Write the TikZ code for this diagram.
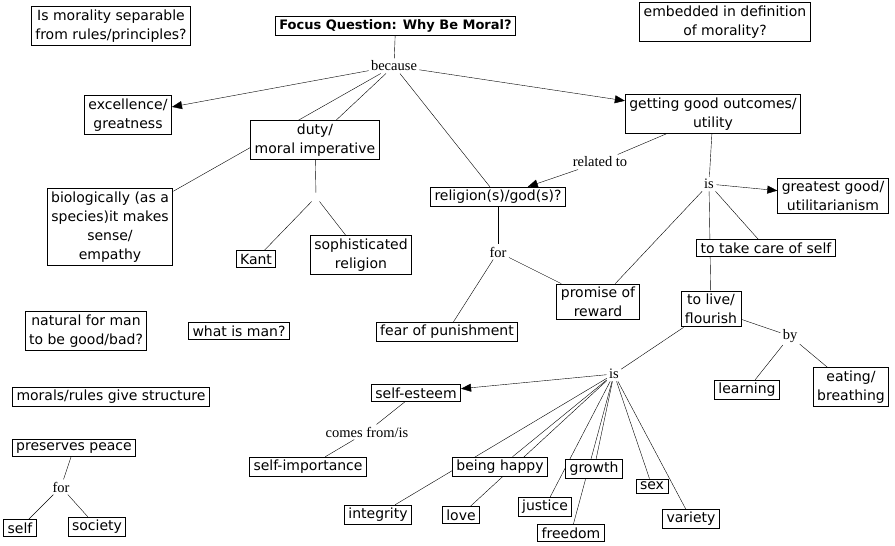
\documentclass[tikz,border=0pt]{standalone}
\usepackage{fontspec}
\setmainfont{Liberation Serif}
\newfontfamily\boxfont{DejaVu Sans}
\usetikzlibrary{arrows.meta,backgrounds}
\tikzset{
  every picture/.style={line width=0.9pt},
  concept/.style={draw, fill=white, align=center, inner xsep=4pt, inner ysep=3pt,
    font=\boxfont\fontsize{14}{19}\selectfont},
  linkword/.style={inner sep=2pt, font=\fontsize{14.5}{16}\selectfont},
  tolink/.style={-{Triangle[length=10pt,width=8pt]}},
}

\begin{document}
\begin{tikzpicture}[x=1pt,y=-1pt]
    \useasboundingbox (0,0) rectangle (895,546);

    % Focus question and loose questions
    \node[concept,font=\boxfont\bfseries\fontsize{13}{16}\selectfont] (focus) at (395.5,26) {Focus Question: Why Be Moral?};
    \node[concept] (separable) at (111,26) {Is morality separable\\from rules/principles?};
    \node[concept] (embedded) at (725,22) {embedded in definition\\of morality?};
    \node[concept] (natural) at (86,331) {natural for man\\to be good/bad?};
    \node[concept] (whatman) at (239,331) {what is man?};
    \node[concept] (structure) at (111,397) {morals/rules give structure};

    % because branch
    \node[linkword] (because) at (394,66) {because};
    \node[concept] (excellence) at (128,115) {excellence/\\greatness};
    \node[concept] (duty) at (315,140) {duty/\\moral imperative};
    \node[inner sep=4pt] (dutylink) at (316,197) {};
    \node[concept] (biology) at (110,227) {biologically (as a\\species)it makes\\sense/\\empathy};
    \node[concept] (kant) at (256,259) {Kant};
    \node[concept] (sophisticated) at (361,255) {sophisticated\\religion};

    % religion
    \node[concept] (religion) at (498,197) {religion(s)/god(s)?};
    \node[linkword] (forreligion) at (498,252) {for};
    \node[concept] (fear) at (447,332) {fear of punishment};
    \node[concept] (promise) at (598,302) {promise of\\reward};

    % outcomes
    \node[concept] (outcomes) at (713,114) {getting good outcomes/\\utility};
    \node[linkword] (related) at (600,162) {related to};
    \node[linkword] (isupper) at (709,184) {is};
    \node[concept] (greatest) at (833,196) {greatest good/\\utilitarianism};
    \node[concept] (takecare) at (766,248) {to take care of self};
    \node[concept] (flourish) at (711,309) {to live/\\flourish};
    \node[linkword] (by) at (790,336) {by};
    \node[concept] (learning) at (747,390) {learning};
    \node[concept] (eating) at (851,387) {eating/\\breathing};

    % what flourishing is
    \node[linkword] (islower) at (614,374) {is};
    \node[concept] (esteem) at (416,393) {self-esteem};
    \node[linkword] (comes) at (367,432) {comes from/is};
    \node[concept] (importance) at (308,467) {self-importance};
    \node[concept] (happy) at (500,467) {being happy};
    \node[concept] (integrity) at (378,515) {integrity};
    \node[concept] (love) at (461,515) {love};
    \node[concept] (growth) at (594,469) {growth};
    \node[concept] (justice) at (545,507) {justice};
    \node[concept] (freedom) at (571,533) {freedom};
    \node[concept] (sex) at (652,486) {sex};
    \node[concept] (variety) at (691,519) {variety};

    % peace
    \node[concept] (peace) at (74,448) {preserves peace};
    \node[linkword] (forpeace) at (61,487) {for};
    \node[concept] (self) at (20,528) {self};
    \node[concept] (society) at (97,527) {society};

    \begin{scope}[on background layer]
        \fill[white] (0,0) rectangle (895,546);

        \draw (focus) -- (because);
        \draw[tolink] (because) -- (excellence);
        \draw (because) -- (duty);
        \draw (because) -- (biology);
        \draw (because) -- (religion);
        \draw[tolink] (because) -- (outcomes);

        \draw (duty) -- (dutylink);
        \draw (dutylink) -- (kant);
        \draw (dutylink) -- (sophisticated);

        \draw (religion) -- (forreligion);
        \draw (forreligion) -- (fear);
        \draw (forreligion) -- (promise);

        \draw (outcomes) -- (related);
        \draw[tolink] (related) -- (religion);
        \draw (outcomes) -- (isupper);
        \draw[tolink] (isupper) -- (greatest);
        \draw (isupper) -- (takecare);
        \draw (isupper) -- (flourish);
        \draw (isupper) -- (promise);

        \draw (flourish) -- (by);
        \draw (by) -- (learning);
        \draw (by) -- (eating);
        \draw (flourish) -- (islower);

        \draw[tolink] (islower) -- (esteem);
        \draw (esteem) -- (comes);
        \draw (comes) -- (importance);
        \foreach \target in {happy,integrity,love,growth,justice,freedom,sex,variety}
            \draw (islower) -- (\target);

        \draw (peace) -- (forpeace);
        \draw (forpeace) -- (self);
        \draw (forpeace) -- (society);
    \end{scope}
\end{tikzpicture}
\end{document}
